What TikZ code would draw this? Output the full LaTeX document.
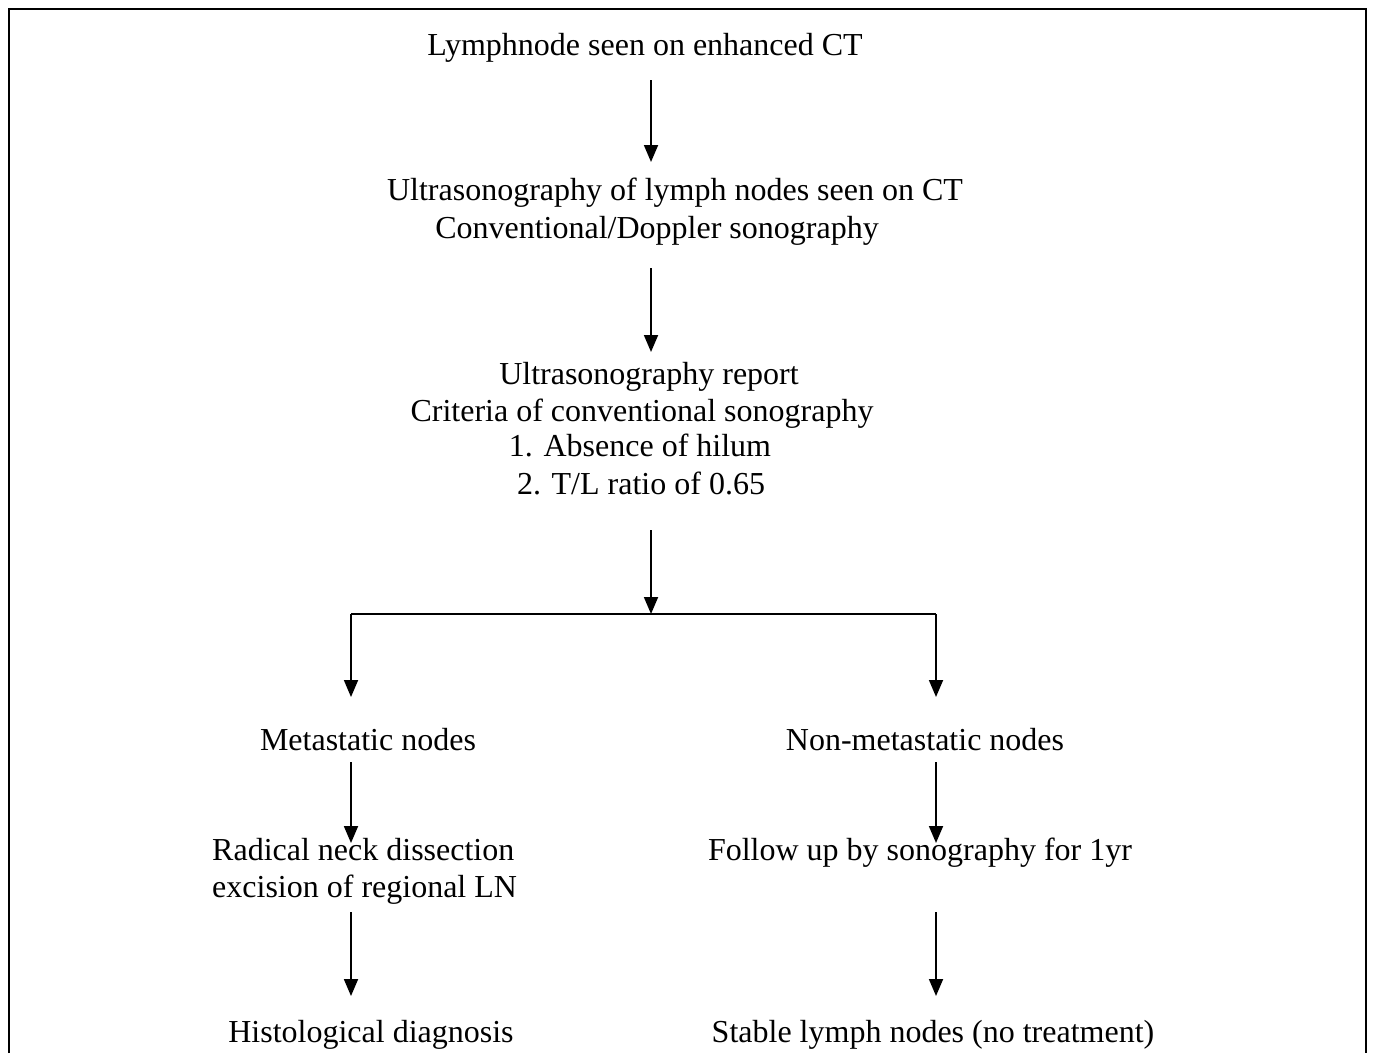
\documentclass[tikz,border=0pt]{standalone}
\usepackage{fontspec}
\setmainfont{Liberation Serif}
\usetikzlibrary{arrows.meta}
\begin{document}
\begin{tikzpicture}[x=1pt,y=-1pt,
  txt/.style={inner sep=0pt, font=\fontsize{32}{37}\selectfont, anchor=base},
  ltxt/.style={txt, anchor=base west},
  arr/.style={line width=1.8pt, -{Triangle[width=14pt,length=17pt]}},
  frame/.style={line width=2pt}]
\useasboundingbox (0,0) rectangle (1373,1053);
\draw[frame] (9,1053) -- (9,9) -- (1366,9) -- (1366,1053);
% texts
\node[txt] (t1) at (645,55) {Lymphnode seen on enhanced CT};
\node[txt] (t2a) at (675,200) {Ultrasonography of lymph nodes seen on CT};
\node[txt] (t2b) at (657,238) {Conventional/Doppler sonography};
\node[txt] (t3a) at (649,384) {Ultrasonography report};
\node[txt] (t3b) at (642,421) {Criteria of conventional sonography};
\node[txt] (t3c) at (640,456) {1. Absence of hilum};
\node[txt] (t3d) at (641,494) {2. T/L ratio of 0.65};
\node[txt] (m) at (368,750) {Metastatic nodes};
\node[txt] (n) at (925,750) {Non-metastatic nodes};
\node[ltxt] (r1) at (212,860) {Radical neck dissection};
\node[ltxt] (r2) at (212,897) {excision of regional LN};
\node[txt] (f) at (920,860) {Follow up by sonography for 1yr};
\node[txt] (h) at (371,1042) {Histological diagnosis};
\node[txt] (s) at (933,1042) {Stable lymph nodes (no treatment)};
% connector end points
\coordinate (a1s) at (651,80);  \coordinate (a1e) at (651,162);
\coordinate (a2s) at (651,268); \coordinate (a2e) at (651,352);
\coordinate (a3s) at (651,530); \coordinate (a3e) at (651,614);
\coordinate (bl) at (351,614);  \coordinate (br) at (936,614);
\coordinate (ble) at (351,697); \coordinate (bre) at (936,697);
\coordinate (m1s) at (351,762); \coordinate (m1e) at (351,843);
\coordinate (n1s) at (936,762); \coordinate (n1e) at (936,843);
\coordinate (m2s) at (351,912); \coordinate (m2e) at (351,996);
\coordinate (n2s) at (936,912); \coordinate (n2e) at (936,996);
% connectors
\draw[arr] (a1s) -- (a1e);
\draw[arr] (a2s) -- (a2e);
\draw[arr] (a3s) -- (a3e);
\draw[line width=1.8pt] (bl) -- (br);
\draw[arr] (bl) -- (ble);
\draw[arr] (br) -- (bre);
\draw[arr] (m1s) -- (m1e);
\draw[arr] (n1s) -- (n1e);
\draw[arr] (m2s) -- (m2e);
\draw[arr] (n2s) -- (n2e);
\end{tikzpicture}
\end{document}
